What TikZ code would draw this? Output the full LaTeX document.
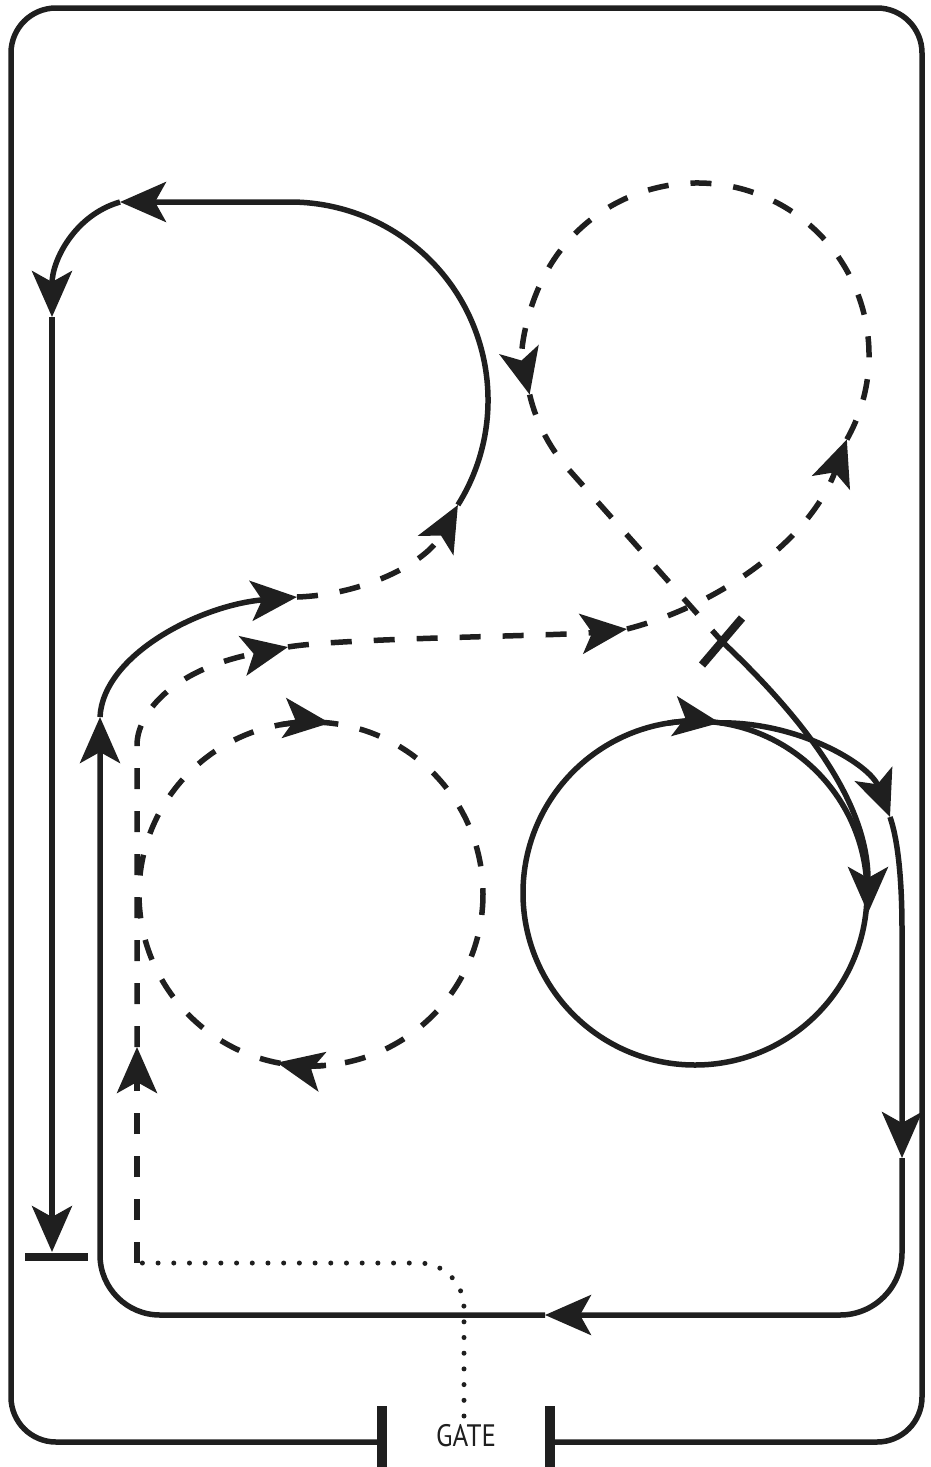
\documentclass[tikz,border=0pt]{standalone}
\usepackage{fontspec}
\usepackage{graphicx}
\usetikzlibrary{arrows.meta}
\newfontfamily\gatefont{PT Sans}
\begin{document}
\begin{tikzpicture}[x=1pt,y=-1pt,
  ln/.style={line width=5.5pt, color=black!88},
  arr/.style={ln, -{Stealth[length=46pt,width=40pt,inset=11pt]}},
  dsh/.style={dash pattern=on 21pt off 22pt},
  dots/.style={line width=5pt, color=black!88, line cap=round, dash pattern=on 0pt off 15.7pt},
  barline/.style={line width=8pt, color=black!88},
  gatebar/.style={line width=10pt, color=black!88}]
\useasboundingbox (0,0) rectangle (931,1467);

% outer frame with gate
\draw[ln, rounded corners=45pt] (382,1442) -- (11,1442) -- (11,8) -- (922,8) -- (922,1442) -- (550,1442);
\draw[gatebar] (382,1406) -- (382,1467);
\draw[gatebar] (550,1406) -- (550,1467);
\node[font=\gatefont\fontsize{31}{31}\selectfont, text=black!88, inner sep=0pt] (gate) at (466,1436) {\scalebox{0.87}[1]{GATE}};

% centres
\coordinate (uc) at (697,355);
\coordinate (rc) at (695,893);
\coordinate (lc) at (311,894);

% named points
\coordinate (LA) at (100,717);
\coordinate (LB) at (297,597);
\coordinate (LC) at ([shift={(32:198)}]290,400);
\coordinate (LL) at (120,202);
\coordinate (LD) at (52,317);
\coordinate (LE) at (52,1252);
\coordinate (T1) at (25,1257);
\coordinate (T2) at (88,1257);

\coordinate (R0) at ([shift={(-81.7:172)}]rc);
\coordinate (RA) at (890,817);
\coordinate (RB) at (902,1158);
\coordinate (RC) at (545,1315);
\coordinate (RBL) at (902,1315);
\coordinate (RCL) at (100,1315);
\coordinate (RD) at (868,913);

\coordinate (G0) at (464,1416);
\coordinate (G1) at (464,1263);
\coordinate (G2) at (137,1263);
\coordinate (DA) at (137,1047);
\coordinate (DA2) at (137,745);
\coordinate (DB) at (288,647);
\coordinate (DC) at (627,629);
\coordinate (DD) at ([shift={(29.4:172)}]uc);
\coordinate (DE) at ([shift={(166.7:172)}]uc);
\coordinate (barC) at (722,641.5);
\coordinate (barA) at (702,665);
\coordinate (barB) at (742,618);

% left solid / dashed loop
\draw[arr] (LA) .. controls (103,655) and (200,605) .. (LB);
\draw[arr, dsh] (LB) .. controls (360,595) and (425,565) .. (LC);
\draw[arr] (LC) arc[start angle=32, end angle=-90, radius=198] -- (LL);
\draw[arr] (LL) .. controls (75,215) and (52,260) .. (LD);
\draw[arr] (LD) -- (LE);
\draw[barline] (T1) -- (T2);

% big solid loop
\draw[arr] (R0) .. controls (800,722) and (870,765) .. (RA);
\draw[arr] (RA) .. controls (898,840) and (902,880) .. (902,930) -- (RB);
\draw[arr, rounded corners=62pt] (RB) -- (RBL) -- (RC);
\draw[arr, rounded corners=60pt] (RC) -- (RCL) -- (LA);

% right solid circle
\draw[ln] (rc) circle[radius=172];
\draw[arr] ([shift={(-99:172)}]rc) arc[start angle=-99, end angle=-81.7, radius=172];

% left dashed circle
\draw[ln, dsh] (lc) circle[radius=172];
\draw[arr] ([shift={(-100:172)}]lc) arc[start angle=-100, end angle=-83.7, radius=172];
\draw[arr] ([shift={(85:172)}]lc) arc[start angle=85, end angle=101.4, radius=172];

% gate path
\draw[dots, rounded corners=45pt] (G0) -- (G1) -- (G2);
\draw[arr, dsh] (G2) -- (DA);
\draw[arr, dsh] (DA) -- (DA2) .. controls (137,715) and (170,670) .. (DB);
\draw[arr, dsh] (DB) .. controls (340,638) and (560,636) .. (DC);
\draw[arr, dsh] (DC) .. controls (720,605) and (810,540) .. (DD);
\draw[arr, dsh] (DD) arc[start angle=29.4, end angle=-193.3, radius=172];
\draw[ln, dsh] (DE) arc[start angle=166.7, end angle=137, radius=172] -- (barC);
\draw[barline] (barA) -- (barB);
\draw[arr] (barC) .. controls (800,715) and (868,800) .. (RD);
\end{tikzpicture}
\end{document}
